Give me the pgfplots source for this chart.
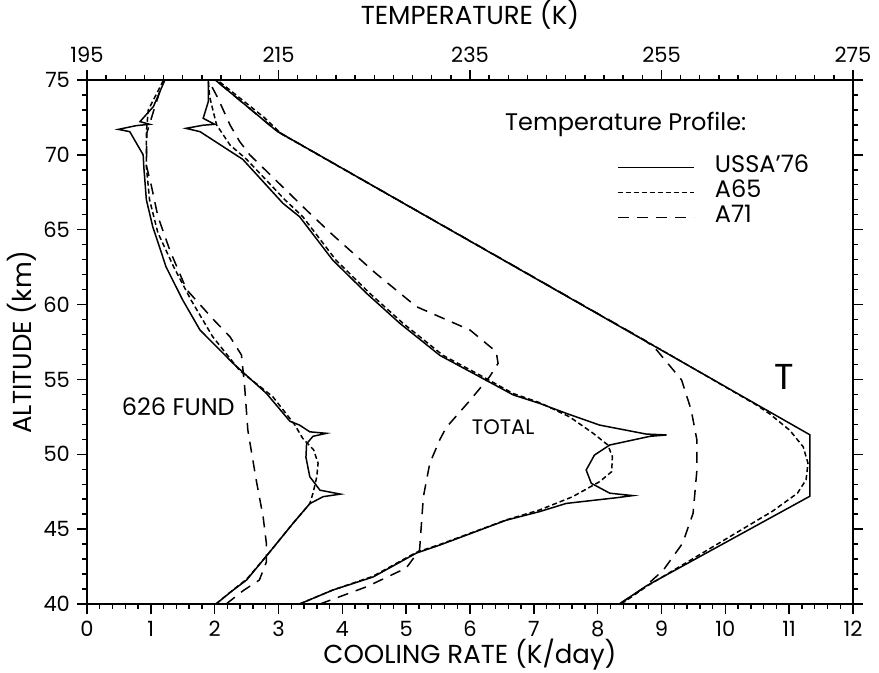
\documentclass[border=0pt]{standalone}
\usepackage{pgfplots}
\pgfplotsset{compat=1.18}
\usepackage{fontspec}
\setmainfont{Poppins}

\pgfplotsset{
  usa/.style={black, line width=0.75pt, solid},
  aa/.style={black, line width=0.75pt, dash pattern=on 2.5pt off 1.5pt},
  ab/.style={black, line width=0.75pt, dash pattern=on 5.5pt off 4pt},
  common/.style={
    scale only axis, width=383pt, height=262pt,
    ymin=40, ymax=75,
    tick align=outside,
    major tick length=5pt, minor tick length=2.5pt,
    every tick/.style={black, line width=0.7pt},
    axis line style={line width=1pt},
    /pgf/number format/assume math mode=true,
    ticklabel style={font=\fontsize{10.5}{12}\selectfont},
    label style={font=\fontsize{13}{15}\selectfont},
  },
}

\begin{document}
\begin{tikzpicture}
% cooling rates against the lower axis
\begin{axis}[
  common,
  xmin=0, xmax=12,
  xtick={0,...,12}, minor x tick num=4,
  ytick={40,45,...,75}, minor y tick num=4,
  xtick pos=lower, ytick pos=both, yticklabel pos=left,
  xlabel={COOLING RATE (K/day)},
  ylabel={ALTITUDE (km)},
  xlabel style={at={(axis description cs:0.5,-0.096)}, anchor=center},
  ylabel style={at={(axis description cs:-0.085,0.5)}, anchor=center},
]
% 626 FUND
\addplot[usa] coordinates {
 (2.02,40) (2.29,40.93) (2.50,41.6) (2.81,43.2) (3.23,45.4) (3.49,46.7)
 (3.70,47.17) (3.97,47.34) (3.65,47.6) (3.49,48.5) (3.43,49.8) (3.44,50.7)
 (3.54,51.2) (3.75,51.4) (3.49,51.5) (3.33,51.95) (3.18,52.2) (2.81,54.07)
 (2.29,56.07) (1.77,58.3) (1.50,60.3) (1.24,62.5) (1.03,65.2) (0.93,67)
 (0.89,69.2) (0.88,70.0) (0.67,71.55) (0.49,71.7) (0.77,71.95) (0.98,72.04)
 (0.83,72.22) (1.04,73.22) (1.22,75)};
\addplot[aa] coordinates {
 (2.02,40) (2.29,40.95) (2.50,41.65) (2.81,43.2) (3.23,45.4) (3.49,46.7)
 (3.54,47.4) (3.60,48.5) (3.62,49.4) (3.55,50.3) (3.38,51.06) (3.25,52.0)
 (2.91,53.85) (2.39,55.6) (1.97,57.85) (1.63,60.3) (1.36,62.5) (1.11,64.8)
 (0.98,67) (0.93,69.2) (0.93,71.5) (0.96,73) (1.20,75)};
\addplot[ab] coordinates {
 (2.18,40) (2.45,40.9) (2.70,41.6) (2.81,42.8) (2.81,44.05) (2.76,45.8)
 (2.65,48.3) (2.52,51.6) (2.47,54.5) (2.42,56.63) (2.24,57.85) (1.98,59.0)
 (1.56,61.0) (1.30,63.6) (1.11,65.9) (1.01,67.9) (0.93,69.3) (0.94,71.5)
 (1.07,73.3) (1.20,75)};
% TOTAL
\addplot[usa] coordinates {
 (3.33,40) (3.85,40.93) (4.48,41.8) (5.16,43.4) (5.53,43.94) (6.57,45.6)
 (7.09,46.17) (7.51,46.72) (8.30,47.1) (8.55,47.24) (8.19,47.4) (7.90,48.06)
 (7.82,48.95) (7.95,49.95) (8.19,50.62) (8.82,51.2) (9.08,51.29) (8.76,51.35)
 (8.03,51.95) (7.51,52.73) (7.09,53.4) (6.68,53.96) (6.15,55.18) (5.53,56.6)
 (4.90,58.75) (4.38,60.75) (3.85,62.97) (3.33,65.87) (3.07,66.76) (2.44,69.7)
 (1.77,71.55) (1.55,71.77) (1.82,71.98) (2.00,72.04) (1.82,72.44) (1.90,73.55)
 (1.90,75)};
\addplot[aa] coordinates {
 (3.33,40) (3.85,40.93) (4.48,41.85) (5.16,43.45) (5.53,43.98) (6.57,45.62)
 (7.09,46.28) (7.61,47.17) (8.03,48.17) (8.22,48.84) (8.23,49.84) (8.16,50.62)
 (7.93,51.4) (7.56,52.5) (7.09,53.45) (6.68,54.05) (6.15,55.3) (5.58,56.6)
 (4.95,58.75) (4.43,60.75) (3.90,62.97) (3.38,65.87) (3.10,67) (2.50,69.7)
 (2.24,70.66) (2.03,72) (1.92,73.9) (1.90,75)};
\addplot[ab] coordinates {
 (3.65,40) (4.38,41.15) (5.00,42.4) (5.21,43.6) (5.24,45.4) (5.27,47.17)
 (5.37,49.4) (5.53,51.0) (5.63,51.8) (6.00,53.6) (6.31,55.2) (6.44,56.07)
 (6.41,56.85) (6.00,58.3) (5.58,59.08) (5.16,59.86) (4.52,62.1) (3.85,64.65)
 (3.44,66.3) (3.20,67.3) (2.55,70) (2.39,70.9) (2.24,72) (2.05,73.8) (1.90,75)};
\node[font=\fontsize{12}{14}\selectfont] at (axis cs:1.43,53.2) {626 FUND};
\node[font=\fontsize{10.5}{12}\selectfont] at (axis cs:6.52,51.84) {TOTAL};
\node[font=\fontsize{18}{20}\selectfont] at (axis cs:10.93,55.18) {T};
\node[font=\fontsize{12}{14}\selectfont] at (axis cs:8.44,72.0) {Temperature Profile:};
\end{axis}
% temperature profiles against the upper axis
\begin{axis}[
  common,
  xmin=195, xmax=275,
  axis x line*=top, axis y line=none,
  xtick={195,215,...,275}, minor x tick num=9,
  tick align=outside,
  xlabel={TEMPERATURE (K)},
  xlabel style={at={(axis description cs:0.5,1.124)}, anchor=center},
  legend style={draw=none, fill=none, at={(0.692,0.858)}, anchor=north west,
    inner sep=0pt, font=\fontsize{12}{14}\selectfont,
    nodes={inner sep=0pt, text height=9pt, text depth=3.5pt}},
  legend cell align=left,
  legend image code/.code={\draw[#1] (0pt,0pt) -- (38pt,0pt);},
  legend columns=1,
]
\addplot[usa] coordinates {
 (250.6,40) (253.4,41.2) (270.5,47.2) (270.5,51.3) (214.8,71.6) (208.4,75)};
\addlegendentry{\hspace{10pt}USSA'76}
\addplot[aa] coordinates {
 (250.8,40) (253.5,41.2) (266.6,46.2) (269.2,47.4) (270.1,48.3) (270.3,49.4)
 (269.8,50.5) (268.4,51.6) (266.3,52.7) (264.9,53.3) (256.0,56.6)
 (215.3,71.4) (213.5,72.5) (208.6,75)};
\addlegendentry{\hspace{10pt}A65}
\addplot[ab] coordinates {
 (250.6,40) (253.1,41.05) (255.2,42.27) (257.2,44.05) (258.3,46.06)
 (258.7,48.95) (258.7,50.95) (258.1,52.96) (257.1,54.96) (254.5,56.96)
 (253.3,57.6) (214.8,71.6) (208.4,75)};
\addlegendentry{\hspace{10pt}A71}
\end{axis}
\pgfresetboundingbox
\path (-43.5pt,-34.5pt) rectangle (396pt,302pt);
\end{tikzpicture}
\end{document}
